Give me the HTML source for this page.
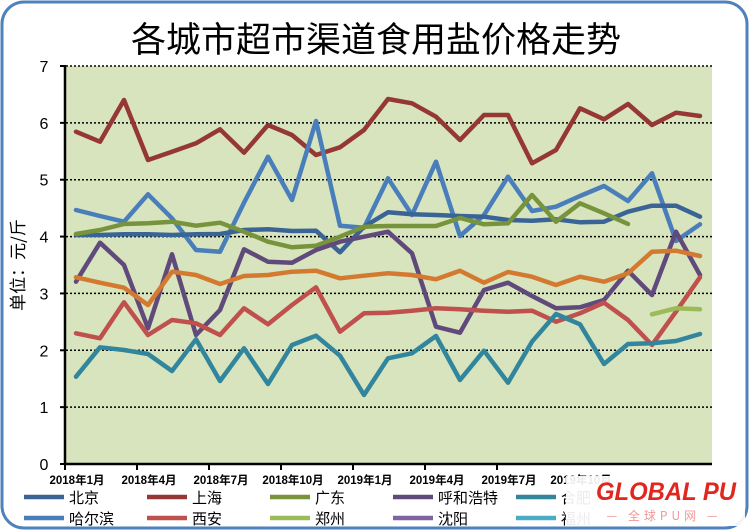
<!DOCTYPE html>
<html><head><meta charset="utf-8"><style>
html,body{margin:0;padding:0;background:#fff;}
svg{display:block;}
text{font-family:"Liberation Sans","Noto Sans CJK SC",sans-serif;}
</style></head><body>
<svg id="s" width="749" height="530" viewBox="0 0 749 530" xmlns="http://www.w3.org/2000/svg">
<rect x="2" y="2" width="745" height="526" rx="22" fill="#fff" stroke="#4f81bd" stroke-width="3"/>
<text x="376" y="52" font-size="35" text-anchor="middle" fill="#000" style="font-family:'Noto Sans CJK SC',sans-serif">各城市超市渠道食用盐价格走势</text>
<rect x="65" y="66" width="647" height="398" fill="#d7e4bd"/>
<g id="grid" stroke="#000" stroke-width="1.5" stroke-dasharray="2,2"></g>
<g id="axes"></g>
<g id="lines" fill="none" stroke-width="4.5" stroke-linejoin="round" stroke-linecap="round"></g>
<text transform="translate(24,265) rotate(-90)" font-size="17" text-anchor="middle" style="font-family:'Noto Sans CJK SC',sans-serif">单位：元/斤</text>
<g id="leg"></g>
<rect x="566" y="476" width="179" height="50" fill="#fff" opacity="0.92"/>
<text x="596" y="500" font-size="25" font-weight="bold" font-style="italic" fill="#e0261f" textLength="140" lengthAdjust="spacingAndGlyphs">GLOBAL PU</text>
<text x="664" y="520" font-size="12" fill="#e99" text-anchor="middle" letter-spacing="4" style="font-family:'Noto Sans CJK SC',sans-serif">— 全球PU网 —</text>
</svg>
<script>
const NS="http://www.w3.org/2000/svg";
function el(p,t,a,txt){const e=document.createElementNS(NS,t);for(const k in a)e.setAttribute(k,a[k]);if(txt!=null)e.textContent=txt;document.getElementById(p).appendChild(e);return e;}
for(let v=0;v<=7;v++){const y=464-v*56.857;
 if(v>0) el('grid','line',{x1:66,x2:712,y1:y,y2:y});
 el('axes','line',{x1:60,x2:65,y1:y,y2:y,stroke:'#000','stroke-width':2});
 el('axes','text',{x:44,y:y+6,'font-size':16,'text-anchor':'middle'},String(v));}
el('axes','line',{x1:65,x2:65,y1:65,y2:465,stroke:'#000','stroke-width':2.5});
el('axes','line',{x1:64,x2:712,y1:464,y2:464,stroke:'#000','stroke-width':2.5});
for(let k=0;k<7;k++){const x=65+72*k;el('axes','line',{x1:x,x2:x,y1:464,y2:470,stroke:'#000','stroke-width':2});}
const labs=["2018年1月","2018年4月","2018年7月","2018年10月","2019年1月","2019年4月","2019年7月","2019年10月"];
labs.forEach((l,i)=>el('axes','text',{x:77+72*i,y:484,'font-size':11.5,'font-weight':'bold','text-anchor':'middle'},l));
const S=[
["#953735",[215,245,120,300,275,250,208,278,195,225,285,262,210,117,130,170,240,165,165,310,270,145,178,132,195,158,168],0],
["#4a7ebb",[450,468,485,403,475,570,575,428,290,420,183,497,503,355,465,305,528,465,350,453,440,408,378,423,340,543,493],0],
["#3a6496",[525,525,523,523,525,523,522,510,508,513,512,577,500,457,463,465,468,470,480,482,478,487,485,455,437,437,470],0],
["#77933c",[522,510,492,490,485,497,488,515,545,562,557,530,500,498,498,498,474,493,490,405,485,430,460,492],0],
["#604a7b",[665,548,615,805,583,825,750,568,605,608,570,545,530,515,580,800,818,690,668,708,745,742,720,632,705,515,645],0],
["#d47a30",[652,668,683,735,635,645,672,648,645,635,632,655,647,640,645,658,632,668,636,650,675,650,665,640,575,572,588],0],
["#c0504d",[820,835,727,825,780,790,825,745,793,735,682,815,760,758,752,745,748,752,755,752,785,760,728,780,855,755,652],0],
["#31859c",[950,862,870,882,933,838,963,865,972,855,827,887,1005,895,880,828,960,872,968,845,762,793,912,852,850,843,822],0],
["#9bbb59",[763,745,748],24]];
S.forEach(([c,d,o])=>{el('lines','polyline',{stroke:c,points:d.map((z,i)=>(76+24*(i+o))+','+(60+z/3).toFixed(1)).join(' ')});});
const L=[["北京","#3a6496"],["上海","#953735"],["广东","#77933c"],["呼和浩特","#604a7b"],["合肥","#31859c"],
["哈尔滨","#4a7ebb"],["西安","#c0504d"],["郑州","#9bbb59"],["沈阳","#8064a2"],["福州","#4bacc6"]];
L.forEach(([n,c],i)=>{const col=i%5,row=Math.floor(i/5);const x=24+123*col,y=497+21*row;
 el('leg','line',{x1:x,x2:x+40,y1:y,y2:y,stroke:c,'stroke-width':4.5});
 el('leg','text',{x:x+45,y:y+6,'font-size':15,style:"font-family:'Noto Sans CJK SC',sans-serif"},n);});
</script>
</body></html>
